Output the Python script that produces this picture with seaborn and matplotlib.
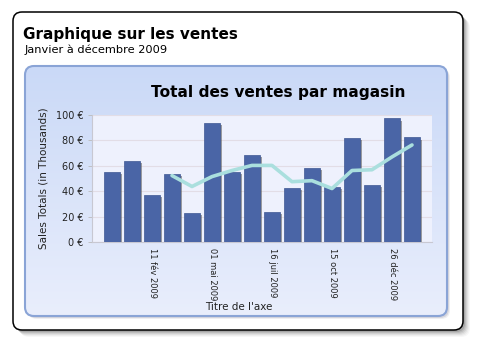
import numpy as np
import pandas as pd
import matplotlib
matplotlib.use("Agg")
import matplotlib.pyplot as plt
import seaborn as sns
from matplotlib.patches import FancyBboxPatch
from matplotlib.colors import LinearSegmentedColormap
import matplotlib.patheffects as pe

# ---- data ----
bar_pos = [0, 1, 2, 3, 4, 5, 6, 7, 8, 9, 10, 11, 12, 13, 14, 15]
sales = [55.0, 64.0, 36.8, 53.7, 22.8, 93.9, 55.0, 68.4, 23.3, 42.6, 58.2, 43.7, 81.8, 45.0, 97.3, 82.3]
avg_pos = [3, 4, 5, 6, 7, 8, 9, 10, 11, 12, 13, 14, 15]
avg_vals = [52.3, 43.7, 51.5, 56.3, 60.3, 60.3, 47.5, 48.3, 42.1, 56.3, 56.9, 67.0, 76.4]
tick_pos = [2, 5, 8, 11, 14]
tick_labels = ["11 fév 2009", "01 mai 2009", "16 juil 2009", "15 oct 2009", "26 déc 2009"]
y_ticks = [0, 20, 40, 60, 80, 100]
y_tick_labels = ["0 €", "20 €", "40 €", "60 €", "80 €", "100 €"]

title = "Graphique sur les ventes"
subtitle = "Janvier à décembre 2009"
chart_title = "Total des ventes par magasin"
y_label = "Sales Totals (in Thousands)"
x_label = "Titre de l'axe"

sns.set_theme(style="white")
plt.rcParams['font.family'] = ['DejaVu Sans']

W, H = 482, 349
fig = plt.figure(figsize=(W / 100, H / 100), dpi=100)
fig.patch.set_facecolor("white")

bg = fig.add_axes([0, 0, 1, 1])
bg.set_xlim(0, W)
bg.set_ylim(H, 0)
bg.axis("off")

# outer frame shadow
for d, a in [(7, 0.03), (6, 0.04), (5, 0.05), (4, 0.07), (3, 0.09), (2, 0.12)]:
    bg.add_patch(FancyBboxPatch((13 + d, 12 + d), 450, 318,
                                boxstyle="round,pad=0,rounding_size=9",
                                fc="black", ec="none", alpha=a, zorder=1))
frame = FancyBboxPatch((13, 12), 450, 318, boxstyle="round,pad=0,rounding_size=9",
                       fc="white", ec="black", lw=1.1, zorder=2)
bg.add_patch(frame)

# panel shadow
for d, a in [(3, 0.08), (2, 0.12)]:
    bg.add_patch(FancyBboxPatch((25 + d, 66 + d), 422, 250,
                                boxstyle="round,pad=0,rounding_size=9",
                                fc="#303050", ec="none", alpha=a, zorder=3))
panel = FancyBboxPatch((25, 66), 422, 250, boxstyle="round,pad=0,rounding_size=9",
                       fc="none", ec="#8aa4d6", lw=1.5, zorder=5)
bg.add_patch(panel)
clip = FancyBboxPatch((25, 66), 422, 250, boxstyle="round,pad=0,rounding_size=9",
                      fc="none", ec="none", transform=bg.transData)
bg.add_patch(clip)
cmap = LinearSegmentedColormap.from_list("g", ["#cad9f7", "#e9eefc"])
grad = np.linspace(0, 1, 256).reshape(-1, 1)
im = bg.imshow(grad, extent=(25, 447, 316, 66), cmap=cmap, aspect="auto", zorder=4)
im.set_clip_path(clip)

bg.text(23, 34, title, fontsize=11, fontweight="bold", va="center", ha="left", color="black", zorder=6)
bg.text(25, 50, subtitle, fontsize=8.2, va="center", ha="left", color="black", zorder=6)
bg.text(278, 93, chart_title, fontsize=11.1, fontweight="bold", va="center", ha="center", color="black", zorder=6)

# ---- plot area ----
ax = fig.add_axes([92 / W, (H - 242) / H, 340 / W, 127 / H])
ax.set_facecolor("#eef1fd")
df = pd.DataFrame({"pos": bar_pos, "sales": sales})
sns.barplot(data=df, x="pos", y="sales", color="#4a65a6", saturation=1, width=0.78,
            ax=ax, zorder=3, edgecolor="#3e5892", linewidth=0.5)
for p in ax.patches:
    p.set_path_effects([pe.SimplePatchShadow(offset=(1.5, -1.5), shadow_rgbFace="#555555", alpha=0.55),
                        pe.Normal()])
adf = pd.DataFrame({"pos": avg_pos, "avg": avg_vals})
sns.lineplot(data=adf, x="pos", y="avg", color="#aadfde", lw=2.6, ax=ax, zorder=4)

ax.set_xlim(-1, 16)
ax.set_ylim(0, 100)
ax.set_yticks(y_ticks)
ax.set_yticklabels(y_tick_labels, fontsize=7, color="#222222")
ax.set_xticks(tick_pos)
ax.set_xticklabels(tick_labels, rotation=270, fontsize=6.0, color="#222222", va="top", ha="center")
ax.tick_params(axis="x", length=0, pad=4.5)
ax.tick_params(axis="y", length=3, width=0.6, color="#bbbbbb", pad=3, left=True)
ax.yaxis.grid(True, color="#e2dde6", lw=0.8, zorder=0)
ax.set_axisbelow(True)
for s in ["top", "right"]:
    ax.spines[s].set_visible(False)
for s in ["left", "bottom"]:
    ax.spines[s].set_color("#c8c8d2")
    ax.spines[s].set_linewidth(0.8)

ax.set_ylabel(y_label, fontsize=7.5, color="#222222")
ax.yaxis.set_label_coords(-0.128, 0.5)
ax.set_xlabel(x_label, fontsize=7.5, color="#222222")
ax.xaxis.set_label_coords((239 - 92) / 340, -0.47)

fig.savefig("out.png", dpi=100)
